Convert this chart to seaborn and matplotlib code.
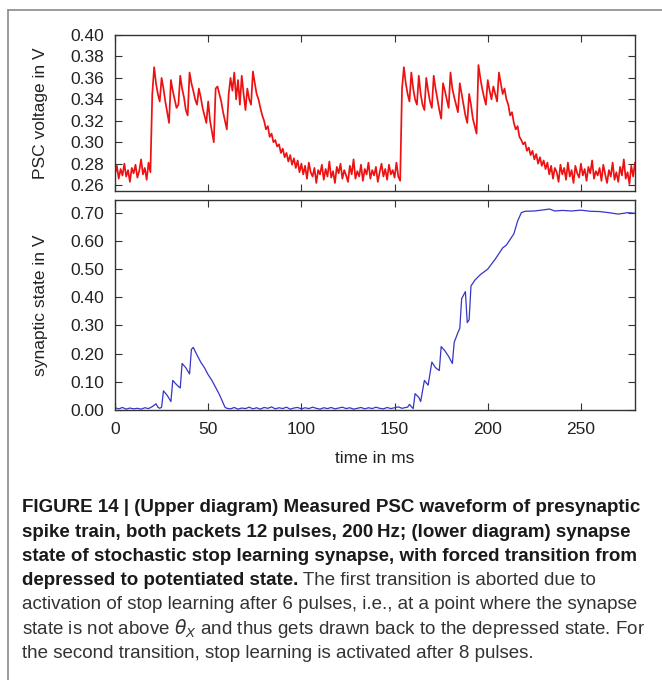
import numpy as np
import pandas as pd
import matplotlib
matplotlib.use("Agg")
import matplotlib.pyplot as plt
from matplotlib import font_manager
from matplotlib.lines import Line2D
import seaborn as sns

# ---------------- data ----------------
psc_v = [
    0.270, 0.278, 0.266, 0.275, 0.269, 0.280, 0.268, 0.274, 0.263, 0.276,
    0.271, 0.279, 0.267, 0.273, 0.284, 0.270, 0.276, 0.265, 0.281, 0.272,
    0.345, 0.370, 0.355, 0.345, 0.338, 0.360, 0.350, 0.338, 0.328, 0.318,
    0.358, 0.348, 0.340, 0.332, 0.335, 0.362, 0.350, 0.342, 0.330, 0.325,
    0.365, 0.355, 0.348, 0.340, 0.335, 0.350, 0.342, 0.332, 0.325, 0.318,
    0.338, 0.320, 0.310, 0.300, 0.350, 0.352, 0.345, 0.338, 0.328, 0.320,
    0.312, 0.345, 0.360, 0.348, 0.365, 0.340, 0.358, 0.335, 0.362, 0.345,
    0.330, 0.350, 0.340, 0.335, 0.366, 0.355, 0.345, 0.340, 0.332, 0.325,
    0.320, 0.312, 0.315, 0.305, 0.308, 0.300, 0.302, 0.296, 0.298, 0.290,
    0.294, 0.286, 0.290, 0.282, 0.288, 0.279, 0.285, 0.276, 0.283, 0.272,
    0.280, 0.270, 0.278, 0.266, 0.281, 0.272, 0.268, 0.276, 0.262, 0.274,
    0.270, 0.279, 0.265, 0.275, 0.268, 0.282, 0.267, 0.273, 0.262, 0.277,
    0.271, 0.280, 0.266, 0.274, 0.269, 0.263, 0.278, 0.270, 0.284, 0.266,
    0.273, 0.268, 0.279, 0.264, 0.275, 0.270, 0.281, 0.266, 0.274, 0.269,
    0.277, 0.263, 0.272, 0.280, 0.268, 0.275, 0.265, 0.279, 0.270, 0.274,
    0.267, 0.281, 0.268, 0.264, 0.350, 0.370, 0.355, 0.345, 0.338, 0.365,
    0.350, 0.340, 0.335, 0.362, 0.345, 0.335, 0.330, 0.360, 0.348, 0.338,
    0.332, 0.362, 0.350, 0.340, 0.330, 0.322, 0.355, 0.348, 0.340, 0.332,
    0.365, 0.350, 0.342, 0.335, 0.328, 0.355, 0.345, 0.335, 0.325, 0.318,
    0.345, 0.335, 0.322, 0.315, 0.308, 0.372, 0.360, 0.350, 0.342, 0.335,
    0.358, 0.348, 0.340, 0.352, 0.345, 0.338, 0.365, 0.355, 0.345, 0.350,
    0.340, 0.335, 0.325, 0.328, 0.318, 0.312, 0.315, 0.305, 0.302, 0.298,
    0.300, 0.292, 0.295, 0.288, 0.292, 0.284, 0.289, 0.280, 0.286, 0.278,
    0.283, 0.275, 0.281, 0.270, 0.278, 0.266, 0.276, 0.272, 0.263, 0.279,
    0.270, 0.276, 0.265, 0.281, 0.268, 0.274, 0.262, 0.278, 0.271, 0.267,
    0.280, 0.269, 0.275, 0.264, 0.277, 0.271, 0.283, 0.266, 0.273, 0.269,
    0.276, 0.264, 0.279, 0.270, 0.262, 0.274, 0.268, 0.281, 0.265, 0.272,
    0.263, 0.277, 0.269, 0.284, 0.266, 0.272, 0.261, 0.278, 0.268, 0.281,
]
psc_t = np.arange(len(psc_v))  # one sample per ms

syn_t = [
    0, 2, 4, 6, 8, 10, 12, 14, 16, 18, 20, 22, 23, 24, 25, 26, 28, 30, 31, 33,
    35, 36, 38, 40, 41, 42, 44, 46, 48, 50, 52, 54, 56, 58, 59, 60,
    62, 64, 66, 68, 70, 72, 74, 76, 78, 80, 82, 84, 86, 88, 90, 92, 94, 96,
    98, 100, 102, 104, 106, 108, 110, 112, 114, 116, 118, 120, 122, 124, 126,
    128, 130, 132, 134, 136, 138, 140, 142, 144, 146, 148, 150, 152, 154, 156,
    157, 158, 159, 160, 161, 163, 164, 166, 168, 170, 172, 174, 175, 177, 179,
    181, 182, 184, 185, 186, 188, 189, 190, 191, 193, 196, 200, 204, 208, 210,
    212, 214, 216, 218, 220, 225, 230, 233, 236, 240, 245, 250, 255, 260, 265,
    270, 275, 279,
]
syn_v = [
    0.008, 0.004, 0.009, 0.003, 0.007, 0.004, 0.006, 0.003, 0.008, 0.005,
    0.012, 0.022, 0.010, 0.006, 0.010, 0.068, 0.052, 0.030, 0.105, 0.090,
    0.078, 0.165, 0.150, 0.128, 0.215, 0.222, 0.195, 0.170, 0.150, 0.125,
    0.105, 0.080, 0.055, 0.025, 0.010, 0.006,
    0.004, 0.009, 0.003, 0.007, 0.005, 0.010, 0.004, 0.008, 0.003, 0.009,
    0.006, 0.011, 0.004, 0.008, 0.005, 0.010, 0.003, 0.007, 0.009, 0.004,
    0.008, 0.005, 0.010, 0.006, 0.003, 0.008, 0.005, 0.009, 0.004, 0.007,
    0.010, 0.005, 0.008, 0.003, 0.006, 0.009, 0.004, 0.008, 0.005, 0.010,
    0.006, 0.004, 0.009, 0.005, 0.008, 0.011, 0.006, 0.009,
    0.010, 0.020, 0.012, 0.005, 0.058, 0.045, 0.030, 0.105, 0.088, 0.170,
    0.150, 0.140, 0.225, 0.210, 0.190, 0.165, 0.240, 0.275, 0.290, 0.395,
    0.420, 0.310, 0.320, 0.440, 0.460, 0.480, 0.500, 0.535, 0.575, 0.585,
    0.605, 0.625, 0.670, 0.700, 0.705, 0.706, 0.710, 0.713, 0.706, 0.708,
    0.706, 0.709, 0.705, 0.704, 0.700, 0.695, 0.700, 0.698,
]
assert len(syn_t) == len(syn_v)

x_ticks = [0, 50, 100, 150, 200, 250]
psc_ticks = [0.26, 0.28, 0.30, 0.32, 0.34, 0.36, 0.38, 0.40]
syn_ticks = [0.00, 0.10, 0.20, 0.30, 0.40, 0.50, 0.60, 0.70]

caption_lines = [
    [("FIGURE 14 | (Upper diagram) Measured PSC waveform of presynaptic", "bold")],
    [("spike train, both packets 12 pulses, 200\u2009Hz; (lower diagram) synapse", "bold")],
    [("state of stochastic stop learning synapse, with forced transition from", "bold")],
    [("depressed to potentiated state.", "bold"),
     (" The first transition is aborted due to", "normal")],
    [("activation of stop learning after 6 pulses, i.e., at a point where the synapse", "normal")],
    [("state is not above $\\theta_X$ and thus gets drawn back to the depressed state. For", "normal")],
    [("the second transition, stop learning is activated after 8 pulses.", "normal")],
]

# ---------------- styling ----------------
sns.set_theme(style="white")
plt.rcParams["font.family"] = ["Liberation Sans", "DejaVu Sans"]
plt.rcParams["mathtext.fontset"] = "dejavusans"

W, H = 662, 680
fig = plt.figure(figsize=(W / 100, H / 100), dpi=100)
fig.patch.set_facecolor("white")

left, right = 115 / W, 635 / W
ax1 = fig.add_axes([left, 1 - 191 / H, right - left, (191 - 35) / H])
ax2 = fig.add_axes([left, 1 - 410 / H, right - left, (410 - 200) / H])

df_psc = pd.DataFrame({"t": psc_t, "v": psc_v})
df_syn = pd.DataFrame({"t": syn_t, "v": syn_v})

sns.lineplot(data=df_psc, x="t", y="v", ax=ax1, color="#ee1111",
             linewidth=1.25, estimator=None)
sns.lineplot(data=df_syn, x="t", y="v", ax=ax2, color="#3535c8",
             linewidth=0.9, estimator=None)

for ax in (ax1, ax2):
    ax.set_xlim(0, 279)
    ax.set_xticks(x_ticks)
    for sp in ax.spines.values():
        sp.set_visible(True)
        sp.set_color("#333333")
        sp.set_linewidth(1.0)
    ax.tick_params(axis="both", which="major", direction="in", length=5,
                   width=0.8, color="#333333", top=True, right=True,
                   bottom=True, left=True, labelsize=12.5,
                   labelcolor="#222222")
    ax.tick_params(axis="y", pad=8)
    ax.tick_params(axis="x", pad=9)
    ax.set_facecolor("white")

ax1.set_ylim(0.2545, 0.40)
ax1.set_yticks(psc_ticks)
ax1.set_yticklabels([f"{v:.2f}" for v in psc_ticks])
ax1.set_xticklabels([])
ax1.set_xlabel("")
ax1.set_ylabel("PSC voltage in V", fontsize=12.5, color="#222222", labelpad=16)

ax2.set_ylim(0.0, 0.745)
ax2.set_yticks(syn_ticks)
ax2.set_yticklabels([f"{v:.2f}" for v in syn_ticks])
ax2.set_xticklabels([str(v) for v in x_ticks])
ax2.set_xlabel("time in ms", fontsize=12.5, color="#222222", labelpad=10)
ax2.set_ylabel("synaptic state in V", fontsize=12.5, color="#222222", labelpad=16)

fig.align_ylabels([ax1, ax2])

# ---------------- frame (top and left border) ----------------
fig.add_artist(Line2D([8 / W, 1.0], [1 - 10 / H, 1 - 10 / H],
                      transform=fig.transFigure, color="#8a8a8a", linewidth=1.2))
fig.add_artist(Line2D([8 / W, 8 / W], [0.0, 1 - 10 / H],
                      transform=fig.transFigure, color="#8a8a8a", linewidth=1.2))

# ---------------- caption ----------------
names = {f.name for f in font_manager.fontManager.ttflist}
cap_font = "Liberation Sans Narrow" if "Liberation Sans Narrow" in names else "Liberation Sans"
renderer = fig.canvas.get_renderer()


def width_px(txt, weight, size):
    t = fig.text(0, 0, txt, fontsize=size, fontweight=weight,
                 family=[cap_font, "DejaVu Sans"])
    w = t.get_window_extent(renderer).width
    t.remove()
    return w


target = 618.0
bold_size = 12 * target / width_px(caption_lines[0][0][0], "bold", 12)
reg_size = 12 * target / width_px(caption_lines[4][0][0], "normal", 12)

x0 = 22
y0 = 508
dy = 24.2
for i, parts in enumerate(caption_lines):
    x = x0
    y = 1 - (y0 + i * dy) / H
    for txt, weight in parts:
        size = bold_size if weight == "bold" else reg_size
        color = "#1a1a1a" if weight == "bold" else "#333333"
        t = fig.text(x / W, y, txt, fontsize=size, fontweight=weight,
                     family=[cap_font, "DejaVu Sans"], color=color,
                     va="center", ha="left")
        x += t.get_window_extent(renderer).width

fig.savefig("out.png", dpi=100, facecolor="white")
